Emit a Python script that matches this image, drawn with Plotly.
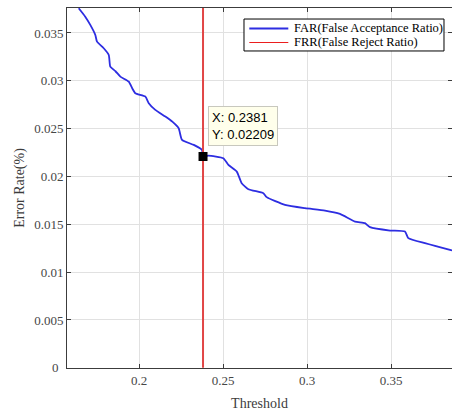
import plotly.graph_objects as go

# FAR curve
far_threshold = [0.1641, 0.1680, 0.1710, 0.1740, 0.1750, 0.1790, 0.1820, 0.1829, 0.1860, 0.1889,
                 0.1939, 0.1960, 0.1978, 0.2038, 0.2058, 0.2097, 0.2157, 0.2200, 0.2236,
                 0.2256, 0.2326, 0.2375, 0.2381, 0.2413, 0.2502, 0.2532, 0.2582, 0.2611,
                 0.2651, 0.2740, 0.2760, 0.2869, 0.2988, 0.3107, 0.3196, 0.3286, 0.3345,
                 0.3375, 0.3494, 0.3583, 0.3603, 0.3702, 0.3762, 0.3851, 0.3880]
far_rate = [0.03758, 0.03670, 0.03584, 0.03479, 0.03409, 0.03340, 0.03270, 0.03148, 0.03100,
            0.03044, 0.02991, 0.02920, 0.02870, 0.02835, 0.02766, 0.02696, 0.02626, 0.02570,
            0.02504, 0.02382, 0.02330, 0.02278, 0.02209, 0.02218, 0.02191, 0.02121, 0.02051,
            0.01930, 0.01867, 0.01825, 0.01784, 0.01703, 0.01669, 0.01644, 0.01609, 0.01529,
            0.01512, 0.01470, 0.01435, 0.01424, 0.01355, 0.01303, 0.01275, 0.01233, 0.01220]

# FRR vertical line
frr_threshold = [0.2381, 0.2381]
frr_rate = [0.0, 0.04]

# data tip
tip_x = 0.2381
tip_y = 0.02209

legend_names = ["FAR(False Acceptance Ratio)", "FRR(False Reject Ratio)"]
x_ticks = [0.2, 0.25, 0.3, 0.35]
y_ticks = [0, 0.005, 0.01, 0.015, 0.02, 0.025, 0.03, 0.035]
y_tick_text = ["0", "0.005", "0.01", "0.015", "0.02", "0.025", "0.03", "0.035"]

blue = "rgb(45,45,225)"
red_line = "rgb(225,70,70)"
red_legend = "rgb(235,30,30)"
serif = "Liberation Serif, Times New Roman"
tick_font = dict(family=serif, size=13, color="rgb(70,70,70)")

fig = go.Figure()
fig.add_trace(go.Scatter(x=far_threshold, y=far_rate, mode="lines",
                         line=dict(color=blue, width=1.8, shape="spline", smoothing=0.5),
                         name=legend_names[0], showlegend=False))
fig.add_trace(go.Scatter(x=frr_threshold, y=frr_rate, mode="lines",
                         line=dict(color=red_line, width=2),
                         name=legend_names[1], showlegend=False))
fig.add_trace(go.Scatter(x=[tip_x], y=[tip_y], mode="markers",
                         marker=dict(symbol="square", size=9, color="black"),
                         showlegend=False, hoverinfo="skip"))

fig.add_annotation(x=tip_x, y=tip_y, xref="x", yref="y", showarrow=False,
                   text=f"X: {tip_x}<br>Y: {tip_y}", align="left",
                   xanchor="left", yanchor="bottom", xshift=5, yshift=10,
                   font=dict(family="Liberation Sans, Arial", size=13, color="black"),
                   bgcolor="rgb(255,255,235)", bordercolor="rgb(200,200,190)",
                   borderwidth=1, borderpad=3)

# the corner tick label ("0") is drawn at the y-axis position of the first tick
fig.add_annotation(x=0, y=y_ticks[0], xref="paper", yref="y", showarrow=False,
                   text=y_tick_text[0], xanchor="right", yanchor="middle", xshift=-6,
                   font=tick_font)

# legend box (drawn MATLAB-style)
fig.add_shape(type="rect", xref="paper", yref="paper", x0=0.4597, x1=0.9792,
              y0=0.8806, y1=0.9694, line=dict(color="black", width=1),
              fillcolor="white", layer="above")
legend_colors = [blue, red_legend]
legend_widths = [2, 1.2]
legend_ys = [0.9431, 0.9042]
for name, col, w, ly in zip(legend_names, legend_colors, legend_widths, legend_ys):
    fig.add_shape(type="line", xref="paper", yref="paper", x0=0.4735, x1=0.5748,
                  y0=ly, y1=ly, line=dict(color=col, width=w), layer="above")
    fig.add_annotation(x=0.5836, y=ly, xref="paper", yref="paper", showarrow=False,
                       text=name, xanchor="left", yanchor="middle",
                       font=dict(family=serif, size=12.5, color="black"))

axis_common = dict(showgrid=True, gridcolor="rgb(225,225,225)", gridwidth=1,
                   showline=True, linecolor="rgb(60,60,60)", linewidth=1,
                   mirror="ticks", ticks="inside", ticklen=4, tickcolor="rgb(60,60,60)",
                   tickfont=tick_font,
                   zeroline=False, automargin=False, ticklabeloverflow="allow")

fig.update_layout(
    width=452, height=411,
    margin=dict(l=67, r=0, t=8, b=43),
    paper_bgcolor="white", plot_bgcolor="white",
    xaxis=dict(range=[0.15714, 0.3863], tickvals=x_ticks,
               ticktext=[str(v) for v in x_ticks],
               title=dict(text="Threshold", standoff=11,
                          font=dict(family=serif, size=14, color="rgb(60,60,60)")),
               **axis_common),
    yaxis=dict(range=[-0.00002, 0.03761], tickvals=y_ticks,
               ticktext=[""] + y_tick_text[1:],
               title=dict(text="Error Rate(%)", standoff=6,
                          font=dict(family=serif, size=14, color="rgb(60,60,60)")),
               **axis_common),
    showlegend=False,
)

fig.write_html("out.html",
               config={"displayModeBar": False, "responsive": False},
               post_script="document.body.style.margin='0';"
                           "document.body.style.overflow='hidden';")
